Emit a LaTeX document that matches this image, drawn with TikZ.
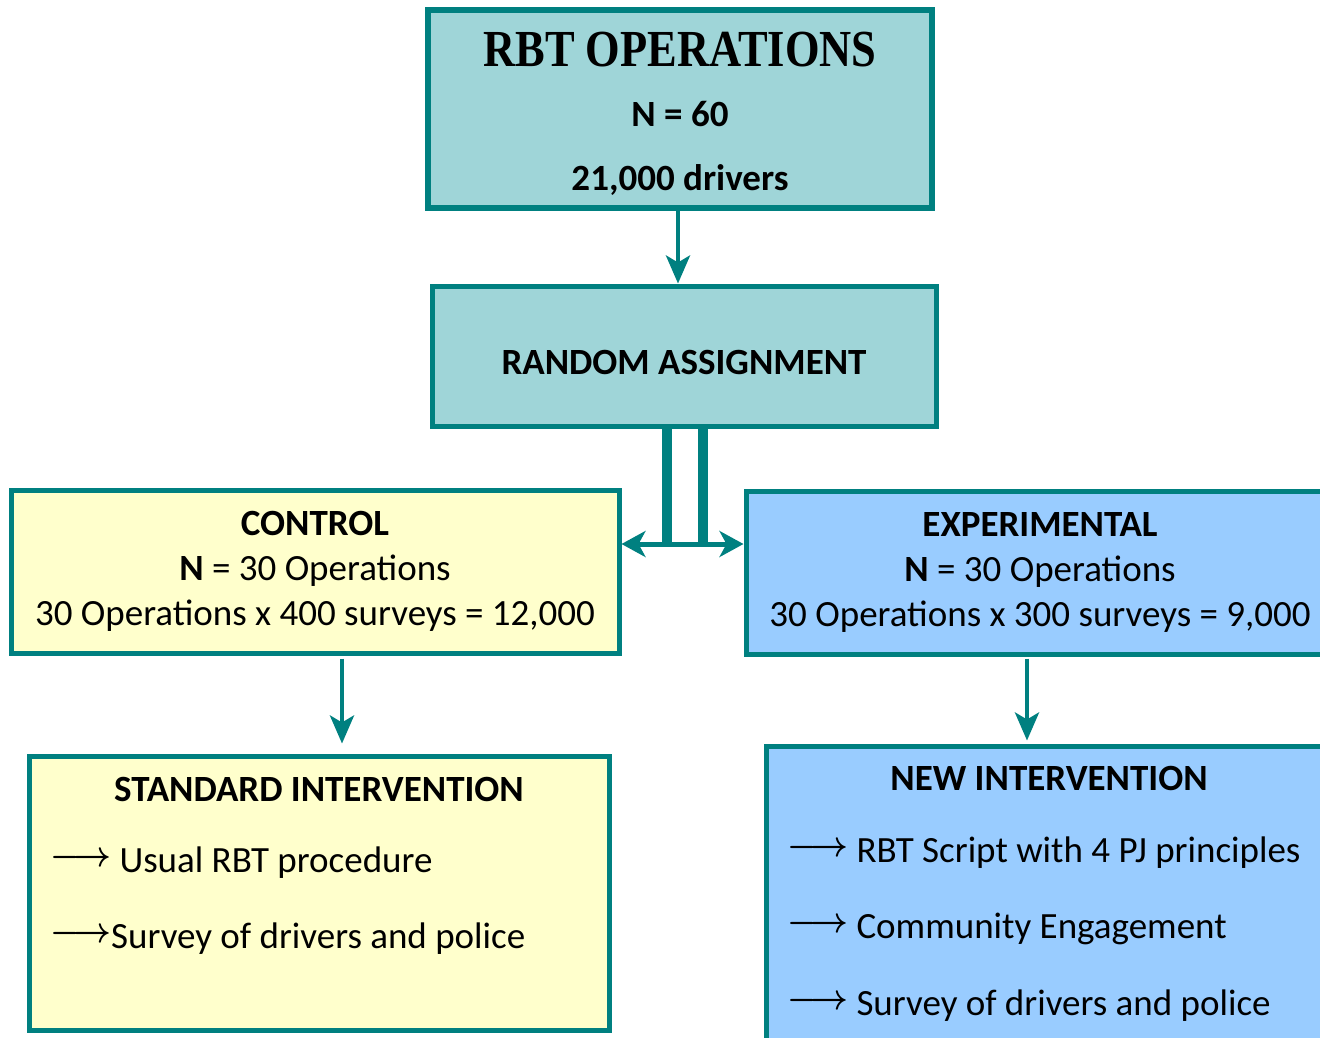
\documentclass[tikz,border=0pt]{standalone}
\usepackage{fontspec}
\setmainfont{Carlito}
\newfontfamily\titlefont{Liberation Serif}
\usepackage{graphicx}
\usetikzlibrary{arrows.meta}

\definecolor{tealline}{RGB}{0,128,128}
\definecolor{opsfill}{RGB}{159,213,216}
\definecolor{ctrlfill}{RGB}{255,255,204}
\definecolor{exptfill}{RGB}{153,204,255}

\tikzset{
  box/.style={draw=tealline, line width=5pt, inner sep=0pt, align=center},
  arr/.style={draw=tealline, line width=4.5pt, -{Stealth[length=28pt, width=24pt, inset=7pt]}},
  split/.style={draw=tealline, line width=10pt}
}
\newcommand{\itemarrow}{\hspace*{21pt}\raisebox{6pt}{\fontsize{10}{12}\selectfont\scalebox{3.3}[3.6]{\boldmath$\longrightarrow$}}}

\begin{document}
\begin{tikzpicture}[x=1pt, y=-1pt, font=\fontsize{37}{45}\selectfont]
\useasboundingbox (0,0) rectangle (1320,1037);
\clip (0,0) rectangle (1320,1037);

\node[box, line width=6.5pt, fill=opsfill, minimum width=504pt, minimum height=198pt] (ops) at (680,109)
  {\rule{0pt}{44pt}{\titlefont\bfseries\fontsize{52}{45}\selectfont\scalebox{0.855}[1]{RBT OPERATIONS}}\\[15pt]
   \textbf{N = 60}\\[19pt] \textbf{21,000 drivers}};
\node[box, fill=opsfill, minimum width=504pt, minimum height=140pt, text height=36pt, text depth=0pt] (assign) at (684,356)
  {\textbf{RANDOM ASSIGNMENT}};

\node[box, fill=ctrlfill, minimum width=608pt, minimum height=163pt] (ctrl) at (315,571.5)
  {\textbf{CONTROL}\\ \textbf{N} = 30 Operations\\ 30 Operations x 400 surveys = 12,000};
\node[box, fill=exptfill, minimum width=588pt, minimum height=163pt] (expt) at (1040,572.5)
  {\textbf{EXPERIMENTAL}\\ \textbf{N} = 30 Operations\\ 30 Operations x 300 surveys = 9,000};

\node[box, fill=ctrlfill, minimum width=580pt, minimum height=274pt] (std) at (319,893)
  {\parbox[c][274pt][t]{580pt}{%
    {\centering\rule{0pt}{45pt}\textbf{STANDARD INTERVENTION}\par}\vspace{26pt}
    \itemarrow\ Usual RBT procedure\par\vspace{31pt}
    \itemarrow Survey of drivers and police\par}};
\node[box, fill=exptfill, minimum width=566pt, minimum height=320pt] (newi) at (1049,906)
  {\parbox[c][320pt][t]{566pt}{%
    {\centering\rule{0pt}{44pt}\textbf{NEW INTERVENTION}\par}\vspace{27pt}
    \itemarrow\ RBT Script with 4 PJ principles\par\vspace{31pt}
    \itemarrow\ Community Engagement\par\vspace{32pt}
    \itemarrow\ Survey of drivers and police\par}};

\coordinate (mid) at (685,544);

\draw[arr] ([xshift=-2pt]ops.south) -- ([xshift=-2pt]ops.south |- assign.north);
\draw[split] ([xshift=-17pt]assign.south) -- ([xshift=-17pt]assign.south |- mid);
\draw[split] ([xshift=19pt]assign.south) -- ([xshift=19pt]assign.south |- mid);
\draw[draw=tealline, line width=5pt, {Stealth[length=24pt, width=26pt, inset=7pt]}-{Stealth[length=24pt, width=26pt, inset=7pt]}]
  (mid -| ctrl.east) -- (mid -| expt.west);
\draw[arr, shorten <=3pt, shorten >=10pt] ([xshift=27pt]ctrl.south) -- ([xshift=27pt]ctrl.south |- std.north);
\draw[arr, shorten <=2pt, shorten >=3pt] ([xshift=-13pt]expt.south) -- ([xshift=-13pt]expt.south |- newi.north);
\end{tikzpicture}
\end{document}
